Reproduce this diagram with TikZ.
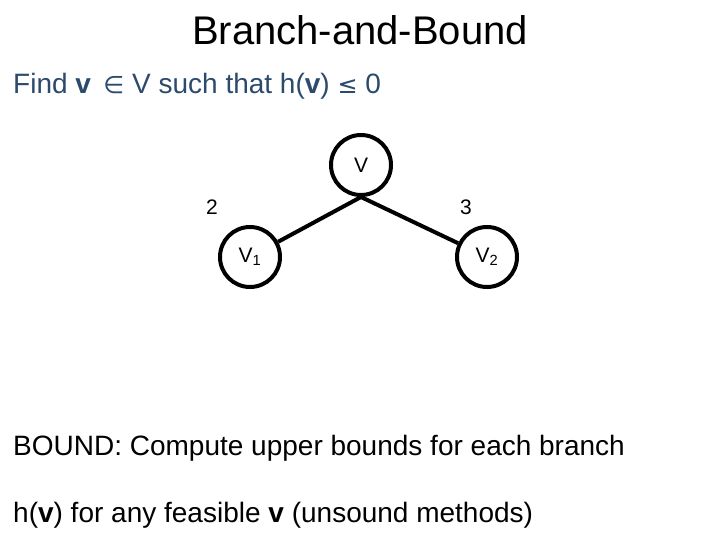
\documentclass[tikz,border=0pt]{standalone}
\usepackage{fontspec}
\setmainfont{Liberation Sans}
\newfontfamily\symfont{DejaVu Sans}
\usepackage{xcolor}
\definecolor{goalc}{HTML}{2B4A6C}
\usetikzlibrary{positioning}
\tikzset{
  vtx/.style={draw,circle,line width=4pt,minimum size=60pt,inner sep=0pt,font=\fontsize{21}{21}\selectfont},
  wlab/.style={inner sep=0pt,font=\fontsize{21}{21}\selectfont},
  txt/.style={anchor=base west,inner sep=0pt,font=\fontsize{28}{28}\selectfont},
  link/.style={line width=4pt},
}
\begin{document}
\begin{tikzpicture}[x=1pt,y=-1pt]
\useasboundingbox (0,0) rectangle (720,540);
\node[anchor=base,inner sep=0pt,font=\fontsize{40}{40}\selectfont] (title) at (360,45) {Branch-and-Bound};
\node[txt,text=goalc] (goal) at (13,94) {Find \textbf{v}\, {\symfont\fontsize{24}{24}\selectfont ∈} V such that h(\textbf{v}) {\symfont\fontsize{24}{24}\selectfont ≤} 0};
% search tree
\node[vtx] (root) at (361,165) {V};
\node[vtx] (v1) at (250,257) {V\textsubscript{1}};
\node[vtx] (v2) at (487,257) {V\textsubscript{2}};
\draw[link] (root.south)--(v1); \draw[link] (root.south)--(v2);
\node[wlab] (w1) at (212,207) {2};
\node[wlab] (w2) at (466,207) {3};
% notes
\node[txt] (bound) at (13,455) {BOUND: Compute upper bounds for each branch};
\node[txt] (feas) at (13,522) {h(\textbf{v}) for any feasible \textbf{v} (unsound methods)};
\end{tikzpicture}
\end{document}
